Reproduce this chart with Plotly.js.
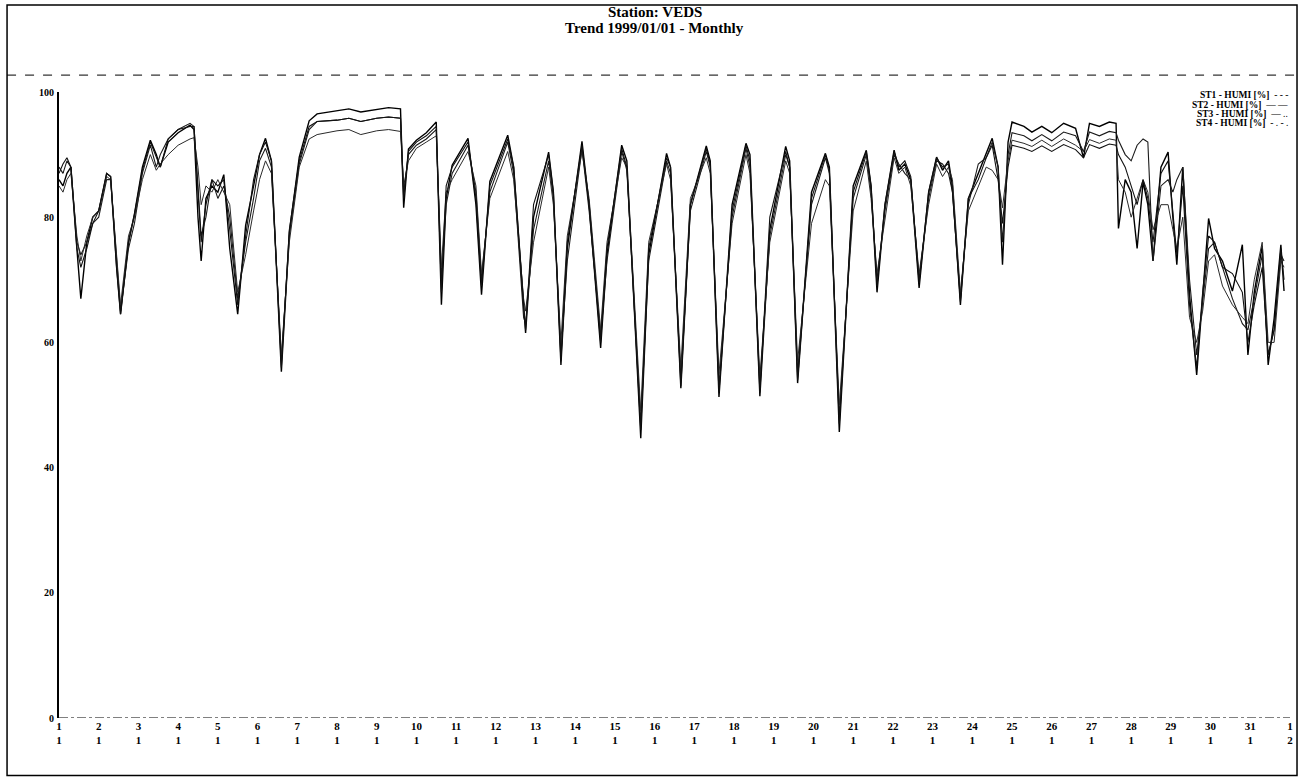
<!DOCTYPE html>
<html>
<head>
<meta charset="utf-8">
<script src="https://cdn.plot.ly/plotly-3.0.1.min.js"></script>
<style>html,body{margin:0;padding:0;background:#fff;}#chart{width:1307px;height:777px;}</style>
</head>
<body>
<div id="chart"></div>
<script>
// time axis in days of January 1999 (32 = 1 February)
const days = [1.00,1.10,1.20,1.30,1.45,1.55,1.70,1.85,2.00,2.20,2.30,2.45,2.55,2.75,2.90,3.10,3.30,3.45,3.55,3.75,4.00,4.30,4.40,4.50,4.58,4.70,4.85,5.00,5.15,5.30,5.50,5.70,5.90,6.05,6.20,6.35,6.60,6.80,7.05,7.30,7.50,8.00,8.30,8.60,9.00,9.30,9.60,9.68,9.80,10.00,10.25,10.50,10.63,10.75,10.90,11.30,11.50,11.64,11.85,12.30,12.45,12.70,12.75,12.95,13.33,13.45,13.64,13.80,14.17,14.35,14.64,14.80,15.17,15.30,15.65,15.85,16.30,16.40,16.66,16.90,17.30,17.40,17.62,17.95,18.30,18.40,18.65,18.90,19.30,19.40,19.60,19.95,20.30,20.40,20.65,21.00,21.33,21.45,21.60,21.80,22.03,22.15,22.30,22.45,22.66,22.90,23.10,23.25,23.40,23.50,23.70,23.90,24.15,24.35,24.50,24.65,24.76,24.90,25.00,25.30,25.50,25.75,26.00,26.30,26.60,26.80,26.95,27.20,27.45,27.62,27.68,27.85,28.00,28.15,28.30,28.42,28.55,28.75,28.93,29.05,29.15,29.30,29.47,29.65,29.80,29.95,30.10,30.30,30.55,30.80,30.94,31.10,31.30,31.45,31.60,31.77,31.85];

const st1 = [86,85,87,88,75,67,76,80,81,87,86.5,72,64.5,76,80.5,88,92.3,90,88,92,93.5,94.7,94,80,73,83,85,84,86.8,75,64.5,78.7,85,90,92.6,89,55.3,77.5,89.6,95.4,96.5,97,97.3,96.8,97.2,97.5,97.3,81.5,90.9,92.3,93.5,95.2,66,83,88.3,92.6,82,67.6,85.7,93.1,88,65,61.5,80,90.4,84,56.4,75,92.1,82,59.1,74,91.5,89,44.7,74,90.2,88,52.7,82,91.4,89,51.3,82,91.8,90,51.4,78,91.3,89,53.5,84,90.2,88,45.7,85,90.7,85,68,82,90.7,87.5,88.5,86,68.7,84,89.6,87.5,89,85,66,83,87,90,92.6,88,72.4,92,95.2,94.5,93.6,94.5,93.5,95,94.2,89.5,95,94.5,95.2,95,78.2,86,84,75,85.6,82,73,88,90.4,80,72.4,88,67.6,54.8,66.6,79.8,75,73,68.2,75.6,58,68,75.4,56.4,63.8,75.6,68.2];

const st2 = [88,87,89,88,76,74,76,79,80,86,86,73,65,75,79,87,91.5,88,90,92.5,94,95,94.5,85,77,80,86,83,85,80,67,76,83,89,91,88,57,77,88.5,94,95.3,95.5,95.8,95.3,95.8,96,95.8,84,90,91.5,92.5,94,70,82,87,91.5,84,70,84,92,87,64,63,78,89,83,58,73,91,81,61,73,90.5,87.5,47,73,89,87,54,81,90.5,88,53,80,91,88,53,77,90,88,55,82,89.5,87,48,83,90,84,70,81,90,88.5,87,86,70,83,89,88.5,87,84,67,82,88.5,89.5,92,88,76,90,93.5,93,92.2,93.2,92.2,93.6,93,90.5,93.6,93,93.7,93.5,92.3,90,89,91.5,92.5,92,73,85,86,84,86,88,70,58,66,75,76,72,67,63,62,67,74,58,62,74,73];

const st3 = [85,84,86,87,77,73,77,80,81,86.5,86,74,66,77,80,86,90,87.5,88.5,90,91.5,92.5,92.7,88,82,85,84,86,84,82,68,74,81,86,89,87,58,76,88,92.5,93.2,93.8,94,93.2,93.8,94,93.7,85,89,91,92,93,72,84,86,90.5,85,71,83,90.5,86,67,65,76,88,82,60,77,90.5,83,62,76,89.5,88,49,76,88.5,86,56,83,89.5,87,55,79,90,87,54.5,76,89,87,57,79,86,85,50,81,89,83,71,80,89.5,87,88,85,71,82,88.5,86.5,88,86,68,81,85,88,87.5,86,81.5,89,92.3,91.8,91.3,92.3,91.3,92.5,91.5,90.5,92.4,91.8,92.5,92.3,86,84,80,83,86,84,78,82,82,78,75,80,64,60,65,73,74,69,66,64,63,70,76,60,60,73,72];

const st4 = [87,88.5,89.5,88,75,72,75,79,81,87,86.5,72,64.5,76,80.5,87.5,92,89.5,88,92.5,94,94.5,94.5,84,76,82,86,85,86,78,66,77,86,90,92,89,56,78,89,94.5,95.3,95.5,95.8,95.3,95.8,96,95.8,83,90.5,92,93,94.5,68,85,88,92,83,69,85,92.5,88,66,62,82,90,84,57,76,91.5,82,60,75,91,88,46,75,89.5,88,53,82,91,88.5,52,81,91.5,89,52,80,90.5,88,54,83,90,87.5,47,84,90.5,85,69,82,90.5,88,89,86.5,69.5,84,89.5,88,88.5,84,66.5,83,86,89.5,91.5,86,79,88,91.5,91,90.5,91.4,90.5,91.6,90.8,89.5,91.6,91,91.7,91.5,90,88,85,82,86,83,76,87,89,81,74,85,66,56,68,77,76,72,71,68,60,66,72,58,62,75,70];

const seriesNames = ['ST1 - HUMI [%]','ST2 - HUMI [%]','ST3 - HUMI [%]','ST4 - HUMI [%]'];
const legendDash = ['- - -','— —','— ..','- . - .'];
const titleLines = ['Station: VEDS', 'Trend 1999/01/01 - Monthly'];
const dayLabels = ['1','2','3','4','5','6','7','8','9','10','11','12','13','14','15','16','17','18','19','20','21','22','23','24','25','26','27','28','29','30','31','1'];
const monthLabels = ['1','1','1','1','1','1','1','1','1','1','1','1','1','1','1','1','1','1','1','1','1','1','1','1','1','1','1','1','1','1','1','2'];
const tickDays = [1,2,3,4,5,6,7,8,9,10,11,12,13,14,15,16,17,18,19,20,21,22,23,24,25,26,27,28,29,30,31,32];
const yTicks = [0,20,40,60,80,100];

const allY = [st1, st2, st3, st4];
const widths = [1.4, 1.1, 1.0, 1.1];
const colors = ['#000000', '#1a1a1a', '#2a2a2a', '#111111'];

const traces = allY.map((ys, i) => ({
  x: days, y: ys, type: 'scatter', mode: 'lines', name: seriesNames[i],
  line: {color: colors[i], width: widths[i]}, showlegend: false, hoverinfo: 'x+y'
}));

const serif = '"Liberation Serif", "DejaVu Serif", serif';

const legendAnn = seriesNames.map((n, i) => ({
  xref: 'paper', yref: 'paper', x: 1.0, y: 1.006 - i * 0.0148, xanchor: 'right', yanchor: 'top',
  text: '<b>' + n + '</b>  ' + legendDash[i], showarrow: false,
  font: {family: serif, size: 9.5, color: '#000'}
}));

const titleAnn = titleLines.map((t, i) => ({
  xref: 'paper', yref: 'paper', x: 0.484, y: 1.128 - i * 0.026, xanchor: 'center', yanchor: 'middle',
  text: '<b>' + t + '</b>', showarrow: false,
  font: {family: serif, size: 15, color: '#000'}
}));

const layout = {
  width: 1307, height: 777,
  paper_bgcolor: '#fff', plot_bgcolor: '#fff',
  margin: {l: 59, r: 17, t: 92, b: 59},
  xaxis: {
    range: [1, 32], showgrid: false, zeroline: false, showline: false,
    tickmode: 'array', tickvals: tickDays,
    ticktext: dayLabels.map((d, i) => '<b>' + d + '</b><br><b>' + monthLabels[i] + '</b>'),
    ticks: '', tickangle: 0,
    tickfont: {family: serif, size: 11, color: '#000'}
  },
  yaxis: {
    range: [0, 100], showgrid: false, zeroline: false,
    showline: true, linecolor: '#000', linewidth: 2,
    tickmode: 'array', tickvals: yTicks, ticktext: yTicks.map(v => '<b>' + v + '</b>'),
    ticks: '', ticklabelstandoff: 1,
    tickfont: {family: serif, size: 10, color: '#000'}
  },
  shapes: [
    // outer frame
    {type: 'rect', xref: 'paper', yref: 'paper', x0: -0.0422, x1: 1.0057, y0: -0.092, y1: 1.139,
     line: {color: '#000', width: 1.5}},
    // separator under title
    {type: 'line', xref: 'paper', yref: 'paper', x0: -0.0422, x1: 1.0057, y0: 1.027, y1: 1.027,
     line: {color: '#000', width: 1, dash: 'dash'}},
    // dotted x axis line
    {type: 'line', xref: 'paper', yref: 'y', x0: 0, x1: 1, y0: 0, y1: 0,
     line: {color: '#000', width: 1, dash: 'dashdot'}}
  ],
  annotations: titleAnn.concat(legendAnn),
  showlegend: false
};

Plotly.newPlot('chart', traces, layout, {displayModeBar: false, staticPlot: true});
</script>
</body>
</html>
